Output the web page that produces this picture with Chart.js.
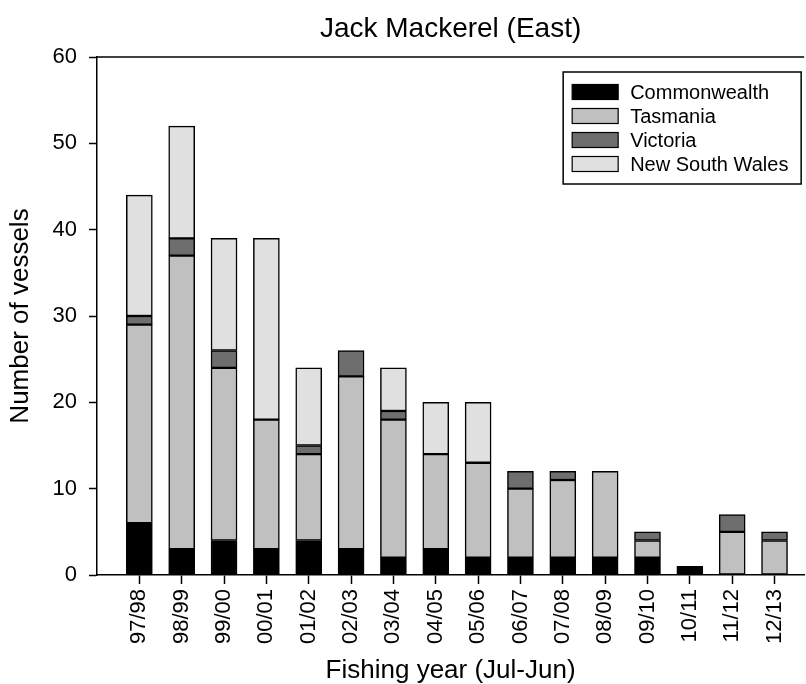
<!DOCTYPE html>
<html>
<head>
<meta charset="utf-8">
<title>Jack Mackerel (East)</title>
<script src="https://cdn.jsdelivr.net/npm/chart.js@4/dist/chart.umd.min.js"></script>
<style>
  html, body { margin: 0; padding: 0; background: #fff; }
  #wrap { width: 806px; height: 684px; }
</style>
</head>
<body>
<div id="wrap"><canvas id="vesselChart" width="806" height="684"></canvas></div>
<script>
// ================= DATA =================
const years = ["97/98", "98/99", "99/00", "00/01", "01/02", "02/03", "03/04", "04/05",
               "05/06", "06/07", "07/08", "08/09", "09/10", "10/11", "11/12", "12/13"];
const commonwealth = [6, 3, 4, 3, 4, 3, 2, 3, 2, 2, 2, 2, 2, 1, 0, 0];
const tasmania     = [23, 34, 20, 15, 10, 20, 16, 11, 11, 8, 9, 10, 2, 0, 5, 4];
const victoria     = [1, 2, 2, 0, 1, 3, 1, 0, 0, 2, 1, 0, 1, 0, 2, 1];
const newSouthWales = [14, 13, 13, 21, 9, 0, 5, 6, 7, 0, 0, 0, 0, 0, 0, 0];
const yTicks = [0, 10, 20, 30, 40, 50, 60];

const seriesNames = ["Commonwealth", "Tasmania", "Victoria", "New South Wales"];
const seriesColors = ["#000000", "#c0c0c0", "#6e6e6e", "#e0e0e0"];

// turn one series into {x, y} points, empty segments are left out
function toPoints(values) {
    return values.map((v, i) => ({ x: i, y: v })).filter(p => p.y > 0);
}

// ================= LEGEND + TOP FRAME =================
const boxLegend = {
    id: "boxLegend",
    afterDraw(chart) {
        const ctx = chart.ctx;
        const area = chart.chartArea;
        ctx.save();

        // top frame line of the plot
        ctx.strokeStyle = "#000";
        ctx.lineWidth = 1.5;
        ctx.beginPath();
        ctx.moveTo(area.left, area.top);
        ctx.lineTo(area.right, area.top);
        ctx.stroke();

        // legend box
        const bx = area.right - 241, by = area.top + 15;
        ctx.strokeRect(bx, by, 238, 112);

        ctx.font = '20px "Liberation Sans", Arial, sans-serif';
        ctx.textBaseline = "middle";
        chart.data.datasets.forEach((ds, i) => {
            const cy = by + 20 + i * 24;
            ctx.fillStyle = ds.backgroundColor;
            ctx.fillRect(bx + 9, cy - 7.5, 46, 15);
            ctx.lineWidth = 1.2;
            ctx.strokeRect(bx + 9, cy - 7.5, 46, 15);
            ctx.fillStyle = "#000";
            ctx.fillText(ds.label, bx + 67, cy + 1);
        });
        ctx.restore();
    }
};

// ================= CHART =================
Chart.defaults.font.family = '"Liberation Sans", Arial, sans-serif';
Chart.defaults.color = "#000";

const ctx = document.getElementById("vesselChart").getContext("2d");
new Chart(ctx, {
    type: "bar",
    data: {
        datasets: [commonwealth, tasmania, victoria, newSouthWales].map((vals, i) => ({
            label: seriesNames[i],
            data: toPoints(vals),
            backgroundColor: seriesColors[i],
            borderColor: "#000",
            borderWidth: 1.5,
            borderSkipped: false,
            barThickness: 26
        }))
    },
    options: {
        responsive: false,
        animation: false,
        layout: { padding: 0 },
        plugins: {
            legend: { display: false },
            tooltip: { enabled: false },
            title: {
                display: true,
                fullSize: false,
                text: "Jack Mackerel (East)",
                font: { size: 28, weight: "normal", lineHeight: 1.2 },
                padding: { top: 12, bottom: 11.4 }
            }
        },
        scales: {
            x: {
                type: "linear",
                min: -1,
                max: 15.7,
                stacked: true,
                offset: false,
                afterBuildTicks: axis => {
                    axis.ticks = years.map((_, i) => ({ value: i }));
                },
                afterFit: axis => { axis.height = 109; },
                grid: {
                    offset: false,
                    drawOnChartArea: false,
                    tickLength: 9,
                    tickWidth: 1.5,
                    tickColor: "#000"
                },
                border: { display: true, color: "#000", width: 1.5 },
                ticks: {
                    autoSkip: false,
                    minRotation: 90,
                    maxRotation: 90,
                    padding: 5,
                    font: { size: 22 },
                    callback: v => years[v] ?? ""
                },
                title: {
                    display: true,
                    text: "Fishing year (Jul-Jun)",
                    font: { size: 26, lineHeight: 1 },
                    padding: { top: 0, bottom: 0 }
                }
            },
            y: {
                min: 0,
                max: 60,
                stacked: true,
                afterBuildTicks: axis => {
                    axis.ticks = yTicks.map(v => ({ value: v }));
                },
                afterFit: axis => { axis.width = 97; },
                grid: {
                    drawOnChartArea: false,
                    tickLength: 8,
                    tickWidth: 1.5,
                    tickColor: "#000"
                },
                border: { display: true, color: "#000", width: 1.5 },
                ticks: { padding: 12, font: { size: 22 } },
                title: {
                    display: true,
                    text: "Number of vessels",
                    font: { size: 26, lineHeight: 1 },
                    padding: { top: 8, bottom: 0 }
                }
            }
        }
    },
    plugins: [boxLegend]
});
</script>
</body>
</html>
